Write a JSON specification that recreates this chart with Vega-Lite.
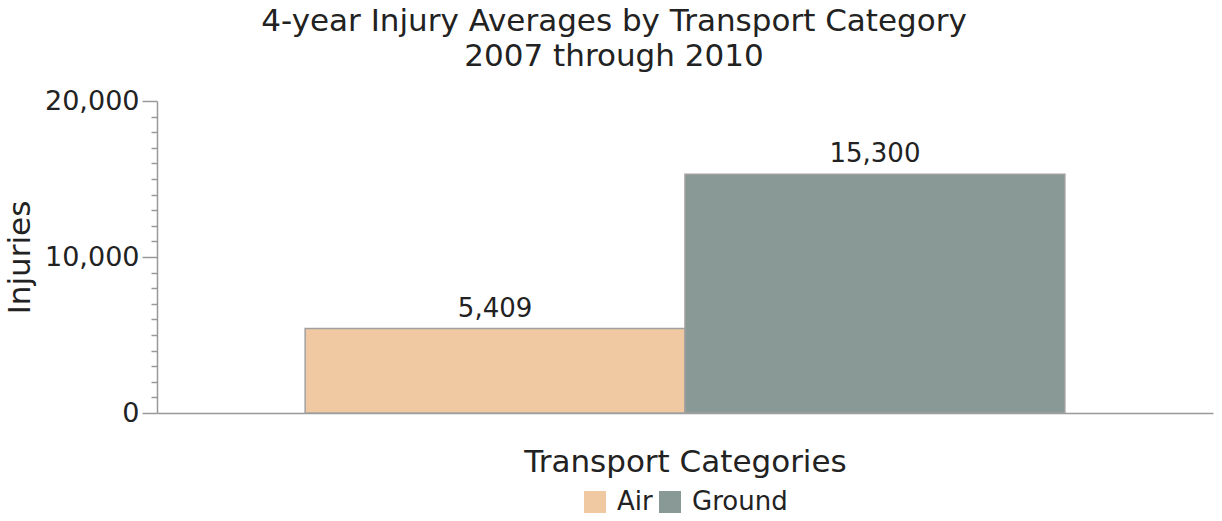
{
  "$schema": "https://vega.github.io/schema/vega-lite/v6.json",
  "width": 1056,
  "height": 312,
  "autosize": {"type": "none"},
  "padding": {"left": 157, "top": 101, "right": 9, "bottom": 108},
  "background": "white",
  "title": {
    "text": ["4-year Injury Averages by Transport Category", "2007 through 2010"],
    "font": "DejaVu Sans",
    "fontSize": 31,
    "fontWeight": "normal",
    "color": "#222",
    "lineHeight": 35,
    "anchor": "middle",
    "dx": -71,
    "offset": 14
  },
  "data": {
    "values": [
      {"type": "Air", "injuries": 5409},
      {"type": "Ground", "injuries": 15300}
    ]
  },
  "encoding": {
    "x": {
      "field": "type",
      "type": "nominal",
      "scale": {"paddingInner": 0, "paddingOuter": 0.39},
      "axis": {
        "title": "Transport Categories",
        "labels": false,
        "ticks": false,
        "domainColor": "#999",
        "domainWidth": 1.5,
        "titleFont": "DejaVu Sans",
        "titleFontSize": 31,
        "titleFontWeight": "normal",
        "titleColor": "#222",
        "titlePadding": 34
      }
    }
  },
  "layer": [
    {
      "mark": {"type": "bar", "stroke": "#a0a0a0", "strokeWidth": 1.5},
      "encoding": {
        "y": {
          "field": "injuries",
          "type": "quantitative",
          "scale": {"domain": [0, 20000], "nice": false},
          "axis": {
            "title": "Injuries",
            "values": [0, 10000, 20000],
            "grid": false,
            "domainColor": "#999",
            "domainWidth": 1.5,
            "tickColor": "#999",
            "tickWidth": 1.5,
            "tickSize": 15,
            "labelPadding": 3,
            "labelFont": "DejaVu Sans",
            "labelFontSize": 27,
            "labelColor": "#222",
            "labelOverlap": false,
            "titleFont": "DejaVu Sans",
            "titleFontSize": 31,
            "titleFontWeight": "normal",
            "titleColor": "#222",
            "titlePadding": 8
          }
        },
        "color": {
          "field": "type",
          "type": "nominal",
          "scale": {"domain": ["Air", "Ground"], "range": ["#f0c8a2", "#889996"]},
          "legend": {
            "title": null,
            "orient": "bottom",
            "direction": "horizontal",
            "symbolType": "square",
            "symbolSize": 484,
            "symbolStrokeWidth": 0,
            "labelFont": "DejaVu Sans",
            "labelFontSize": 26,
            "labelColor": "#222",
            "labelOffset": 9,
            "columnPadding": 4,
            "offset": 12
          }
        }
      }
    },
    {
      "mark": {"type": "text", "dy": -20, "font": "DejaVu Sans", "fontSize": 26, "color": "#222"},
      "encoding": {
        "y": {
          "field": "injuries",
          "type": "quantitative",
          "axis": {
            "title": null,
            "orient": "left",
            "values": [1000, 2000, 3000, 4000, 5000, 6000, 7000, 8000, 9000, 11000, 12000, 13000, 14000, 15000, 16000, 17000, 18000, 19000],
            "labels": false,
            "domain": false,
            "grid": false,
            "tickColor": "#999",
            "tickWidth": 1.5,
            "tickSize": 6
          }
        },
        "text": {"field": "injuries", "type": "quantitative", "format": ","}
      }
    }
  ],
  "resolve": {"axis": {"y": "independent"}},
  "config": {
    "view": {"stroke": null},
    "legend": {"layout": {"bottom": {"anchor": "middle"}}}
  }
}
